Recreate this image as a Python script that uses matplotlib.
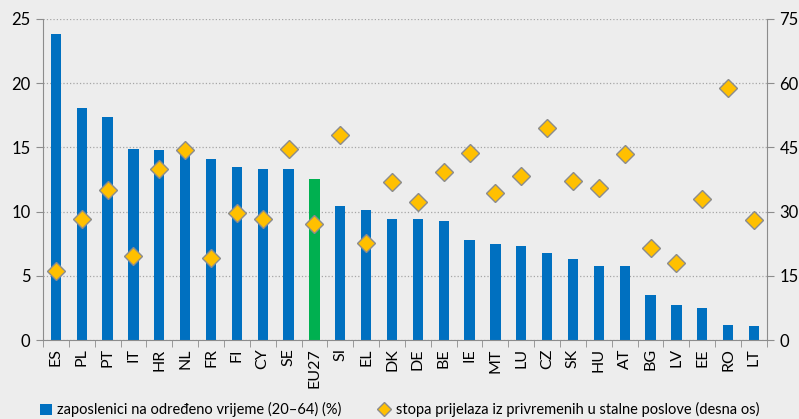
import numpy as np
import matplotlib.pyplot as plt
from matplotlib.lines import Line2D
from matplotlib.patches import Patch

plt.rcParams['font.family'] = ['Lato', 'DejaVu Sans']

# Data
countries = ['ES', 'PL', 'PT', 'IT', 'HR', 'NL', 'FR', 'FI', 'CY', 'SE', 'EU27',
             'SI', 'EL', 'DK', 'DE', 'BE', 'IE', 'MT', 'LU', 'CZ', 'SK', 'HU',
             'AT', 'BG', 'LV', 'EE', 'RO', 'LT']
temp_share = [23.8, 18.1, 17.4, 14.9, 14.8, 15.0, 14.1, 13.5, 13.3, 13.3, 12.5,
              10.4, 10.1, 9.4, 9.4, 9.3, 7.8, 7.5, 7.3, 6.8, 6.3, 5.8,
              5.8, 3.5, 2.7, 2.5, 1.2, 1.1]
transition_rate = [16.2, 28.3, 35.0, 19.7, 40.0, 44.4, 19.2, 29.7, 28.3, 44.6, 27.1,
                   48.0, 22.6, 36.9, 32.2, 39.2, 43.6, 34.3, 38.3, 49.6, 37.1, 35.4,
                   43.4, 21.4, 17.9, 32.9, 58.9, 28.0]

bg = '#EDEDED'
blue = '#0070C0'
green = '#00B050'
gold = '#FFC000'
axis_grey = '#8C8C8C'

fig = plt.figure(figsize=(7.99, 4.19), dpi=100, facecolor=bg)
ax = fig.add_axes([0.0538, 0.1885, 0.906, 0.7662], facecolor=bg)

x = np.arange(len(countries))
colors = [green if c == 'EU27' else blue for c in countries]
ax.bar(x, temp_share, width=0.4, color=colors, zorder=2)

ax.set_xlim(-0.5, len(countries) - 0.5)
ax.set_ylim(0, 25)
ax.set_yticks(np.arange(0, 26, 5))
ax.yaxis.grid(True, linestyle=':', color='#A6A6A6', linewidth=0.9, zorder=0)
ax.set_axisbelow(True)

ax.set_xticks(x)
ax.set_xticklabels(countries, rotation=90, fontsize=11.5)
ax.set_xticks(np.arange(-0.5, len(countries), 1), minor=True)
ax.tick_params(axis='x', which='major', length=0, pad=6)
ax.tick_params(axis='x', which='minor', length=5, color=axis_grey)
ax.tick_params(axis='y', labelsize=12, length=5, color=axis_grey, pad=4)

for s in ['top', 'right']:
    ax.spines[s].set_visible(False)
for s in ['left', 'bottom']:
    ax.spines[s].set_color(axis_grey)

ax2 = ax.twinx()
ax2.set_ylim(0, 75)
ax2.set_yticks(np.arange(0, 76, 15))
ax2.tick_params(axis='y', labelsize=12, length=5, color=axis_grey, pad=4)
ax2.plot(x, transition_rate, linestyle='none', marker='D', markersize=9,
         markerfacecolor=gold, markeredgecolor='#8C8C8C', markeredgewidth=1.0,
         zorder=3)
for s in ['top', 'left', 'bottom']:
    ax2.spines[s].set_visible(False)
ax2.spines['right'].set_color(axis_grey)

handles = [
    Patch(facecolor=blue, edgecolor='none',
          label='zaposlenici na određeno vrijeme (20–64) (%)'),
    Line2D([], [], linestyle='none', marker='D', markersize=7,
           markerfacecolor=gold, markeredgecolor='#8C8C8C',
           label='stopa prijelaza iz privremenih u stalne poslove (desna os)'),
]
fig.legend(handles=handles, loc='center', bbox_to_anchor=(0.5, 0.022), ncol=2,
           frameon=False, fontsize=10.5, handlelength=0.8, handleheight=0.8,
           handletextpad=0.4, columnspacing=2.5)

plt.savefig('out.png', dpi=100, facecolor=bg)
